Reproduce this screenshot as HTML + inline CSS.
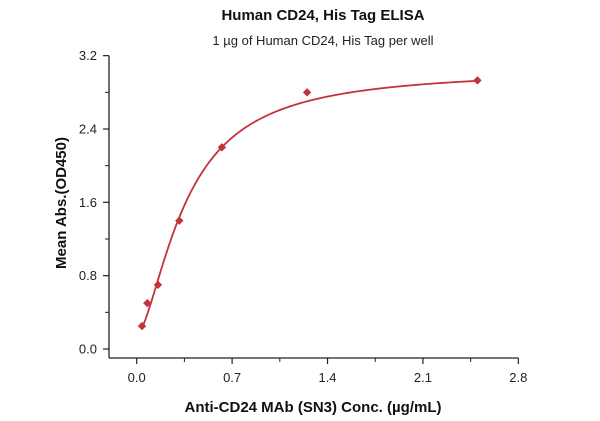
<!DOCTYPE html>
<html><head><meta charset="utf-8">
<style>
html,body{margin:0;padding:0;background:#fff;}
svg{display:block;font-family:"Liberation Sans",sans-serif;}
</style></head>
<body>
<svg id="chart" width="600" height="421">
<text x="323" y="20" text-anchor="middle" font-size="15" font-weight="bold" fill="#111">Human CD24, His Tag ELISA</text>
<text x="323" y="45" text-anchor="middle" font-size="13" fill="#222">1 µg of Human CD24, His Tag per well</text>
<text transform="translate(66,203) rotate(-90)" text-anchor="middle" font-size="15" font-weight="bold" fill="#111">Mean Abs.(OD450)</text>
<text x="313" y="412" text-anchor="middle" font-size="15" font-weight="bold" fill="#111">Anti-CD24 MAb (SN3) Conc. (µg/mL)</text>
<g id="axes"></g>
<g id="marks"></g>
</svg>
<script>
const xValues = [0.039, 0.078, 0.156, 0.3125, 0.625, 1.25, 2.5];
const yValues = [0.25, 0.5, 0.7, 1.4, 2.2, 2.8, 2.93];
const xTicks = [0.0, 0.7, 1.4, 2.1, 2.8];
const xTickLabels = ["0.0", "0.7", "1.4", "2.1", "2.8"];
const yTicks = [0.0, 0.8, 1.6, 2.4, 3.2];
const yTickLabels = ["0.0", "0.8", "1.6", "2.4", "3.2"];
const fitParams = [0.15, 3.05, 0.36, 1.6]; // bottom, top, ec50, hill

const NS = "http://www.w3.org/2000/svg";
const X0 = 136.7, XS = 136.3, Y0 = 349, YS = 91.67;
const AX_X = 109, AX_Y = 358;
function sx(v){ return X0 + v * XS; }
function sy(v){ return Y0 - v * YS; }
function mk(tag, attrs, parent){
  const e = document.createElementNS(NS, tag);
  for (const k in attrs) e.setAttribute(k, attrs[k]);
  parent.appendChild(e);
  return e;
}
const axes = document.getElementById('axes');
const marks = document.getElementById('marks');

let yl = mk('line', {x1:AX_X, y1:sy(3.2), x2:AX_X, y2:AX_Y, stroke:'#222', 'stroke-width':1.3}, axes);


let xl = mk('line', {x1:AX_X, y1:AX_Y, x2:sx(2.8), y2:AX_Y, stroke:'#222', 'stroke-width':1.3}, axes);



yTicks.forEach((t, i) => {
  const y = sy(t);
  const tk = mk('line', {x1:AX_X-6, y1:y, x2:AX_X, y2:y, stroke:'#222', 'stroke-width':1.2}, axes);
  
  
  if (i < yTicks.length - 1) {
    const m = sy(t + 0.4);
    const mt = mk('line', {x1:AX_X-4, y1:m, x2:AX_X, y2:m, stroke:'#222', 'stroke-width':1}, axes);
    
    
  }
  const lb = mk('text', {x:AX_X-12, y:y+4.5, 'text-anchor':'end', 'font-size':13, fill:'#222'}, axes);
  lb.textContent = yTickLabels[i];
  
  
});
xTicks.forEach((t, i) => {
  const x = sx(t);
  const tk = mk('line', {x1:x, y1:AX_Y, x2:x, y2:AX_Y+6, stroke:'#222', 'stroke-width':1.2}, axes);
  
  
  if (i < xTicks.length - 1) {
    const m = sx(t + 0.35);
    const mt = mk('line', {x1:m, y1:AX_Y, x2:m, y2:AX_Y+4, stroke:'#222', 'stroke-width':1}, axes);
    
    
  }
  const lb = mk('text', {x:x, y:AX_Y+24, 'text-anchor':'middle', 'font-size':13, fill:'#222'}, axes);
  lb.textContent = xTickLabels[i];
  
  
});

function fit(x){
  const [a, d, c, b] = fitParams;
  return d + (a - d) / (1 + Math.pow(x / c, b));
}
let pts = [];
const xmin = xValues[0], xmax = xValues[xValues.length - 1];
for (let i = 0; i <= 200; i++) {
  const x = xmin + (xmax - xmin) * i / 200;
  pts.push(sx(x).toFixed(2) + ',' + sy(fit(x)).toFixed(2));
}
const curve = mk('polyline', {points:pts.join(' '), fill:'none', stroke:'#c0343a', 'stroke-width':1.8}, marks);



xValues.forEach((xv, i) => {
  const cx = sx(xv), cy = sy(yValues[i]), r = 4.2;
  const p = mk('polygon', {points:`${cx},${cy-r} ${cx+r},${cy} ${cx},${cy+r} ${cx-r},${cy}`, fill:'#c0343a'}, marks);
  
  
});
</script>
</body></html>
